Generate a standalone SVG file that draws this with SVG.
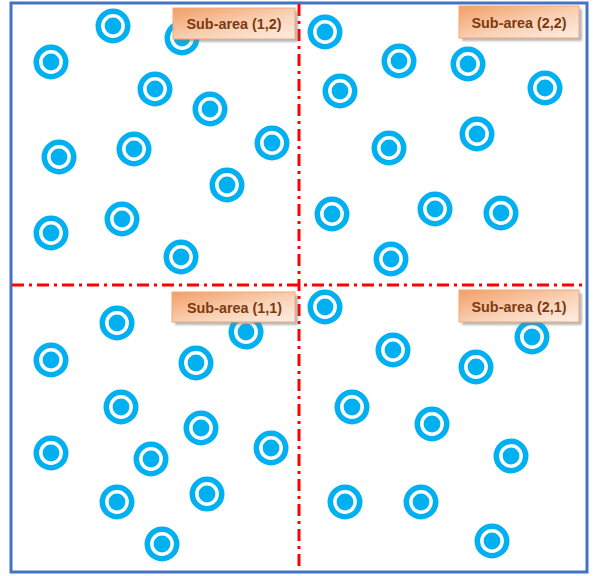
<svg xmlns="http://www.w3.org/2000/svg" xmlns:xlink="http://www.w3.org/1999/xlink" width="596" height="576" viewBox="0 0 596 576">
<style>
.lbl{font-family:"Liberation Sans",Arial,sans-serif;font-weight:bold;font-size:15.5px;fill:#7E3A0E;text-anchor:middle}
.box{fill:url(#g);stroke:#F2A977;stroke-width:1}
.shadow{fill:#808080;opacity:0.55;filter:url(#blur)}
.div{stroke:#FF0000;stroke-width:3;stroke-dasharray:12 5 3 5;fill:none}
</style>
<defs>
<linearGradient id="g" x1="0" y1="0" x2="1" y2="1">
<stop offset="0" stop-color="#F29E66"/>
<stop offset="0.55" stop-color="#F9D1B5"/>
<stop offset="1" stop-color="#FDEEE4"/>
</linearGradient>
<filter id="blur" x="-10%" y="-20%" width="120%" height="140%"><feGaussianBlur stdDeviation="1.2"/></filter>
<g id="pt">
<circle r="14.7" fill="none" stroke="#00B0F0" stroke-width="5.6"/>
<circle r="8.4" fill="#00B0F0"/>
</g>
</defs>
<rect x="0" y="0" width="596" height="576" fill="#FFFFFF"/>
<rect id="frame" x="11" y="3" width="576" height="569" fill="#FFFFFF" stroke="#4472C4" stroke-width="3"/>
<g id="points">
<use id="a1" xlink:href="#pt" x="113" y="26"/>
<use id="a2" xlink:href="#pt" x="182" y="38"/>
<use id="a3" xlink:href="#pt" x="51" y="62"/>
<use id="a4" xlink:href="#pt" x="155" y="89"/>
<use id="a5" xlink:href="#pt" x="210" y="109"/>
<use id="a6" xlink:href="#pt" x="59" y="157"/>
<use id="a7" xlink:href="#pt" x="134" y="149"/>
<use id="a8" xlink:href="#pt" x="272" y="143"/>
<use id="a9" xlink:href="#pt" x="227" y="185"/>
<use id="a10" xlink:href="#pt" x="51" y="233"/>
<use id="a11" xlink:href="#pt" x="122" y="219"/>
<use id="a12" xlink:href="#pt" x="181" y="257"/>
<use id="b1" xlink:href="#pt" x="325" y="32"/>
<use id="b2" xlink:href="#pt" x="399" y="61"/>
<use id="b3" xlink:href="#pt" x="468" y="64"/>
<use id="b4" xlink:href="#pt" x="545" y="88"/>
<use id="b5" xlink:href="#pt" x="340" y="91"/>
<use id="b6" xlink:href="#pt" x="477" y="134"/>
<use id="b7" xlink:href="#pt" x="389" y="148"/>
<use id="b8" xlink:href="#pt" x="332" y="214"/>
<use id="b9" xlink:href="#pt" x="435" y="209"/>
<use id="b10" xlink:href="#pt" x="501" y="213"/>
<use id="b11" xlink:href="#pt" x="391" y="259"/>
<use id="c1" xlink:href="#pt" x="117" y="323"/>
<use id="c2" xlink:href="#pt" x="246" y="332"/>
<use id="c3" xlink:href="#pt" x="51" y="360"/>
<use id="c4" xlink:href="#pt" x="196" y="363"/>
<use id="c5" xlink:href="#pt" x="121" y="407"/>
<use id="c6" xlink:href="#pt" x="201" y="428"/>
<use id="c7" xlink:href="#pt" x="51" y="453"/>
<use id="c8" xlink:href="#pt" x="151" y="459"/>
<use id="c9" xlink:href="#pt" x="271" y="448"/>
<use id="c10" xlink:href="#pt" x="117" y="502"/>
<use id="c11" xlink:href="#pt" x="207" y="494"/>
<use id="c12" xlink:href="#pt" x="162" y="544"/>
<use id="d1" xlink:href="#pt" x="325" y="307"/>
<use id="d2" xlink:href="#pt" x="393" y="350"/>
<use id="d3" xlink:href="#pt" x="532" y="337"/>
<use id="d4" xlink:href="#pt" x="476" y="367"/>
<use id="d5" xlink:href="#pt" x="352" y="407"/>
<use id="d6" xlink:href="#pt" x="432" y="424"/>
<use id="d7" xlink:href="#pt" x="511" y="456"/>
<use id="d8" xlink:href="#pt" x="345" y="502"/>
<use id="d9" xlink:href="#pt" x="421" y="502"/>
<use id="d10" xlink:href="#pt" x="492" y="541"/>
</g>
<g id="connectors">
<line class="div" x1="299" y1="4" x2="299" y2="571"/>
<line class="div" x1="12" y1="285" x2="586" y2="285"/>
</g>
<g id="label12">
<rect class="shadow" x="176" y="11" width="122" height="31"/>
<rect class="box" x="173" y="8" width="122" height="31"/>
<text class="lbl" x="234" y="29" textLength="95" lengthAdjust="spacingAndGlyphs">Sub-area (1,2)</text>
</g>
<g id="label22">
<rect class="shadow" x="462" y="9" width="120" height="32"/>
<rect class="box" x="459" y="6" width="120" height="32"/>
<text class="lbl" x="519" y="27.5" textLength="95" lengthAdjust="spacingAndGlyphs">Sub-area (2,2)</text>
</g>
<g id="label11">
<rect class="shadow" x="175" y="295" width="123" height="30"/>
<rect class="box" x="172" y="292" width="123" height="30"/>
<text class="lbl" x="234.5" y="312.5" textLength="95" lengthAdjust="spacingAndGlyphs">Sub-area (1,1)</text>
</g>
<g id="label21">
<rect class="shadow" x="462" y="293" width="120" height="32"/>
<rect class="box" x="459" y="290" width="120" height="32"/>
<text class="lbl" x="519" y="311.5" textLength="95" lengthAdjust="spacingAndGlyphs">Sub-area (2,1)</text>
</g>
</svg>
